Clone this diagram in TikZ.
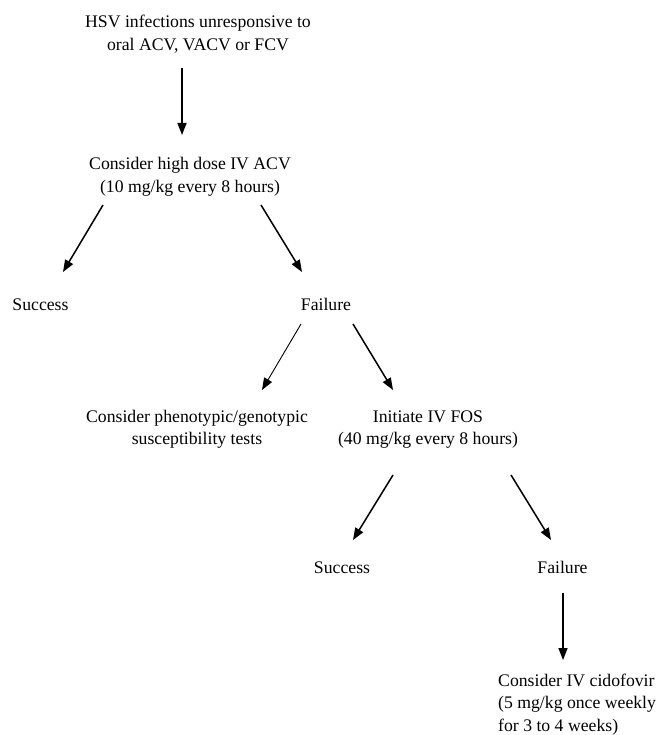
\documentclass[tikz,border=0pt]{standalone}
\usepackage{fontspec}
\setmainfont{Liberation Serif}
\usetikzlibrary{arrows.meta}

\begin{document}
\begin{tikzpicture}[x=1pt,y=-1pt,
    every node/.style={font=\fontsize{17.7}{22.5}\selectfont, inner sep=0pt, anchor=base},
    arr/.style={-{Triangle[length=12pt,width=9pt]}, line width=1.5pt},
    thinarr/.style={arr, line width=0.9pt}]
    \useasboundingbox (0,0) rectangle (657,735);
    \node[align=center] (hsv) at (198,50.5) {HSV infections unresponsive to\\oral ACV, VACV or FCV};
    \node[align=center] (ivacv) at (190,192.5) {Consider high dose IV ACV\\(10 mg/kg every 8 hours)};
    \node (succA) at (40.5,310) {Success};
    \node (failA) at (326,310) {Failure};
    \node[align=center] (tests) at (197,444.5) {Consider phenotypic/genotypic\\susceptibility tests};
    \node[align=center] (fos) at (428,444.5) {Initiate IV FOS\\(40 mg/kg every 8 hours)};
    \node (succB) at (342,573) {Success};
    \node (failB) at (562.5,573) {Failure};
    \node[align=left, anchor=base west] (cido) at (498,731) {Consider IV cidofovir\\(5 mg/kg once weekly\\for 3 to 4 weeks)};
    % arrows
    \draw[arr] ([shift={(-16,17.5)}]hsv.base) -- ([shift={(-8,-57.5)}]ivacv.base);
    \draw[arr] ([shift={(-87,12.5)}]ivacv.base) -- ([shift={(22.5,-38)}]succA.base);
    \draw[arr] ([shift={(71,12.5)}]ivacv.base) -- ([shift={(-24,-38)}]failA.base);
    \draw[thinarr] ([shift={(-25,14)}]failA.base) -- ([shift={(65,-54.5)}]tests.base);
    \draw[arr] ([shift={(27,14)}]failA.base) -- ([shift={(-35,-54.5)}]fos.base);
    \draw[arr] ([shift={(-35,30.5)}]fos.base) -- ([shift={(11,-33)}]succB.base);
    \draw[arr] ([shift={(83,30.5)}]fos.base) -- ([shift={(-11.5,-33)}]failB.base);
    \draw[arr] ([shift={(0.5,20)}]failB.base) -- ([shift={(65,-71)}]cido.base west);
\end{tikzpicture}
\end{document}
